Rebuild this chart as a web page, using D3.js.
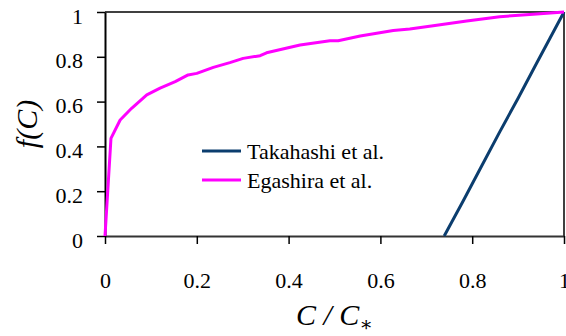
<!DOCTYPE html>
<html>
<head>
<meta charset="utf-8">
<script src="https://cdn.jsdelivr.net/npm/d3@7"></script>
<style>
  html, body { margin: 0; padding: 0; background: #fff; }
  svg { display: block; }
  svg text { font-family: "Liberation Serif", "Times New Roman", Tinos, "DejaVu Serif", serif !important; fill: #000; }
</style>
</head>
<body>
<svg id="chart" width="566" height="336"></svg>
<script>
// Relative concentration C/C* and f(C) for the two formulations
const takahashiC = [0.739, 0.78, 0.82, 0.86, 0.90, 0.94, 0.97, 1.0];
const takahashiF = [0.0, 0.155, 0.31, 0.465, 0.615, 0.77, 0.885, 1.0];

const egashiraC = [0.0, 0.013, 0.033, 0.058, 0.091, 0.12, 0.153, 0.181, 0.2, 0.236, 0.272, 0.301, 0.338,
                   0.352, 0.425, 0.49, 0.508, 0.556, 0.592, 0.628, 0.664, 0.715, 0.788, 0.86, 0.933, 1.0];
const egashiraF = [0.0, 0.436, 0.518, 0.57, 0.63, 0.66, 0.689, 0.719, 0.726, 0.753, 0.774, 0.793, 0.805,
                   0.818, 0.853, 0.872, 0.872, 0.893, 0.905, 0.917, 0.924, 0.939, 0.96, 0.979, 0.99, 1.0];

const xTicks = [0, 0.2, 0.4, 0.6, 0.8, 1];
const yTicks = [0, 0.2, 0.4, 0.6, 0.8, 1];
const seriesNames = ["Takahashi et al.", "Egashira et al."];
const seriesColors = ["#0b3d6e", "#ff00ff"];

const serif = '"Liberation Serif", "Times New Roman", Tinos, "DejaVu Serif", serif';
const svg = d3.select("#chart");
const plot = { left: 105, right: 564, top: 12, bottom: 236 };

const x = d3.scaleLinear().domain([0, 1]).range([plot.left, plot.right]);
const y = d3.scaleLinear().domain([0, 1]).range([plot.bottom, plot.top]);

// frame: top and right edges
svg.append("line").attr("x1", plot.left).attr("x2", plot.right).attr("y1", plot.top).attr("y2", plot.top)
  .attr("stroke", "#000").attr("stroke-width", 1.5);
svg.append("line").attr("x1", plot.right).attr("x2", plot.right).attr("y1", plot.top).attr("y2", plot.bottom)
  .attr("stroke", "#000").attr("stroke-width", 1.5);

// axes
const xAxis = svg.append("g").attr("transform", `translate(0,${plot.bottom})`)
  .call(d3.axisBottom(x).tickValues(xTicks).tickSize(8).tickSizeOuter(0)
    .tickFormat(d => d3.format("")(d)));
xAxis.attr("font-family", null);
xAxis.select(".domain").attr("stroke", "#333").attr("stroke-width", 2);
xAxis.selectAll(".tick line").attr("stroke", "#000").attr("stroke-width", 1.5);
xAxis.selectAll(".tick text").attr("font-size", 22).attr("dy", 0).attr("y", 52)
  .style("font-family", serif);

const yAxis = svg.append("g").attr("transform", `translate(${plot.left},0)`)
  .call(d3.axisLeft(y).tickValues(yTicks).tickSize(8).tickSizeOuter(0)
    .tickFormat(d => d3.format("")(d)));
yAxis.attr("font-family", null);
yAxis.select(".domain").attr("stroke", "#000").attr("stroke-width", 2);
yAxis.selectAll(".tick line").attr("stroke", "#000").attr("stroke-width", 1.5);
yAxis.selectAll(".tick text").attr("font-size", 22).attr("dy", 0).attr("y", 11).attr("x", -22)
  .style("font-family", serif);

// curves
const line = d3.line().x(d => x(d[0])).y(d => y(d[1]));
const series = [
  d3.zip(takahashiC, takahashiF),
  d3.zip(egashiraC, egashiraF)
];
series.forEach((pts, i) => {
  svg.append("path").datum(pts).attr("d", line)
    .attr("fill", "none").attr("stroke", seriesColors[i]).attr("stroke-width", 3)
    .attr("stroke-linejoin", "round");
});

// legend
const legendY = [151, 180];
seriesNames.forEach((name, i) => {
  svg.append("line").attr("x1", 202).attr("x2", 241).attr("y1", legendY[i]).attr("y2", legendY[i])
    .attr("stroke", seriesColors[i]).attr("stroke-width", 3);
  svg.append("text").attr("x", 247).attr("y", legendY[i] + 8).attr("font-size", 22)
    .style("font-family", serif).text(name);
});

// axis titles
const xt = svg.append("text").attr("x", (plot.left + plot.right) / 2).attr("y", 325)
  .attr("text-anchor", "middle").attr("font-size", 30).attr("font-style", "italic")
  .style("font-family", serif);
xt.append("tspan").text("C / C");
xt.append("tspan").attr("font-style", "normal").attr("font-size", 20).attr("dy", 6).text("∗");

svg.append("text").attr("transform", "translate(37,124) rotate(-90)")
  .attr("text-anchor", "middle").attr("font-size", 30).attr("font-style", "italic")
  .style("font-family", serif)
  .text("f(C)");
</script>
</body>
</html>
